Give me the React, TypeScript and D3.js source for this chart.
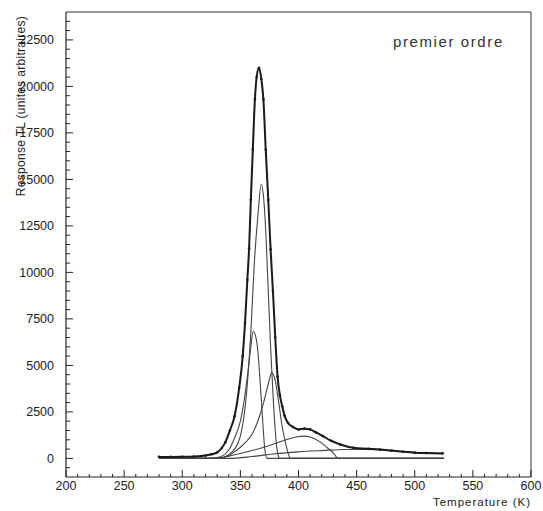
import React from "react";
import * as d3 from "d3";

// measured glow curve (total)
const totalT = [280, 290, 300, 310, 320, 325, 330, 334, 337, 341, 345, 349, 352, 354, 356, 357.5, 359, 360.7, 362.5, 364, 366, 368, 369.8, 371.8, 374, 376, 378, 380, 382, 384, 386, 388, 391, 395, 400, 405, 410, 415, 421, 428, 436, 447, 460, 470, 480, 490, 500, 510, 524];
const totalV = [80, 80, 85, 100, 150, 220, 320, 560, 860, 1500, 2270, 3800, 5500, 7300, 9600, 11300, 13900, 16600, 19300, 20500, 21000, 20400, 19300, 16600, 13900, 11240, 9000, 6500, 4400, 3400, 2800, 2300, 1900, 1700, 1560, 1600, 1560, 1400, 1200, 950, 750, 575, 520, 480, 420, 360, 310, 285, 270];

// first order components
const comp1T = [280, 320, 330, 335, 340, 345, 350, 353, 356, 359, 361, 363, 365, 367, 369, 371, 373, 380, 525];
const comp1V = [0, 0, 50, 150, 450, 1100, 2000, 3000, 4400, 6000, 6840, 6600, 5800, 4100, 2200, 500, 0, 0, 0];

const comp2T = [280, 325, 335, 340, 345, 350, 353, 356, 359, 362, 365, 368, 370, 372, 374, 376, 378, 380, 382, 384, 525];
const comp2V = [0, 0, 50, 200, 500, 1200, 2200, 4000, 6800, 10500, 13000, 14750, 14000, 12000, 9000, 6000, 3500, 1500, 300, 0, 0];

const comp3T = [280, 330, 340, 345, 350, 355, 360, 365, 370, 374, 377, 380, 383, 386, 389, 391, 393, 525];
const comp3V = [0, 0, 150, 350, 600, 900, 1300, 2000, 3000, 4000, 4600, 4200, 3000, 1700, 800, 300, 0, 0];

const comp4T = [280, 330, 340, 350, 360, 370, 380, 390, 398, 405, 410, 415, 420, 425, 430, 434, 525];
const comp4V = [0, 0, 120, 260, 420, 600, 800, 1020, 1150, 1200, 1150, 1020, 820, 560, 300, 0, 0];

const comp5T = [280, 340, 360, 380, 400, 420, 440, 460, 480, 500, 515, 525];
const comp5V = [0, 0, 100, 250, 350, 420, 480, 480, 420, 320, 280, 270];

const xTicks = [200, 250, 300, 350, 400, 450, 500, 550, 600];
const yTicks = [0, 2500, 5000, 7500, 10000, 12500, 15000, 17500, 20000, 22500];

const width = 543;
const height = 511;
const font = "'Liberation Sans', Arial, sans-serif";

const App = () => {
    const x = d3.scaleLinear().domain([200, 600]).range([66, 531]);
    const y = d3.scaleLinear().domain([-1000, 24000]).range([477, 12]);

    const line = d3.line<[number, number]>()
        .x(d => x(d[0]))
        .y(d => y(d[1]))
        .curve(d3.curveMonotoneX);

    const zip = (t: number[], v: number[]) => t.map((d, i) => [d, v[i]] as [number, number]);
    const comps = [zip(comp1T, comp1V), zip(comp2T, comp2V), zip(comp3T, comp3V), zip(comp4T, comp4V), zip(comp5T, comp5V)];
    const total = zip(totalT, totalV);

    const xMinor = d3.range(200, 601, 10);
    const yMinor = d3.range(-500, 23501, 500);

    return (
        <svg width={width} height={height} style={{ position: "absolute", left: 0, top: 0, background: "#fff" }}>
            {/* frame */}
            <line x1={66} x2={531} y1={12} y2={12} stroke="#333" strokeWidth={1} />
            <line x1={531} x2={531} y1={12} y2={477} stroke="#333" strokeWidth={1} />
            <line x1={66} x2={66} y1={12} y2={477} stroke="#222" strokeWidth={1.2} />
            <line x1={66} x2={531} y1={477} y2={477} stroke="#222" strokeWidth={1.2} />

            {/* ticks */}
            {xMinor.map(t => (
                <line key={"xt" + t} x1={x(t)} x2={x(t)} y1={477} y2={t % 50 === 0 ? 470 : 474} stroke="#222" />
            ))}
            {yMinor.map(t => (
                <line key={"yt" + t} x1={66} x2={t % 2500 === 0 ? 73 : 70} y1={y(t)} y2={y(t)} stroke="#222" />
            ))}
            {xTicks.map(t => (
                <text key={"xl" + t} x={x(t)} y={490} textAnchor="middle" fontSize={12.5} fontFamily={font} fill="#222">{t}</text>
            ))}
            {yTicks.map(t => (
                <text key={"yl" + t} x={54} y={y(t)} dy="0.36em" textAnchor="end" fontSize={12.5} fontFamily={font} fill="#222">{t}</text>
            ))}

            {/* components */}
            {comps.map((c, i) => (
                <path key={"c" + i} d={line(c) || ""} fill="none" stroke="#444" strokeWidth={1.1} />
            ))}

            {/* total */}
            <path d={line(total) || ""} fill="none" stroke="#1a1a1a" strokeWidth={2} />
            {total.map((d, i) => (
                <circle key={"p" + i} cx={x(d[0])} cy={y(d[1])} r={1.3} fill="#1a1a1a" />
            ))}

            {/* texts */}
            <text x={393} y={47} fontSize={15} letterSpacing={1.6} fontFamily={font} fill="#333">premier ordre</text>
            <text x={531} y={506} textAnchor="end" fontSize={11.5} letterSpacing={1} fontFamily={font} fill="#222">Temperature (K)</text>
            <text transform="translate(24.5,106) rotate(-90)" textAnchor="middle" fontSize={12} letterSpacing={0.3} fontFamily={font} fill="#222">Response TL (unites arbitraires)</text>
        </svg>
    );
};

export default App;
